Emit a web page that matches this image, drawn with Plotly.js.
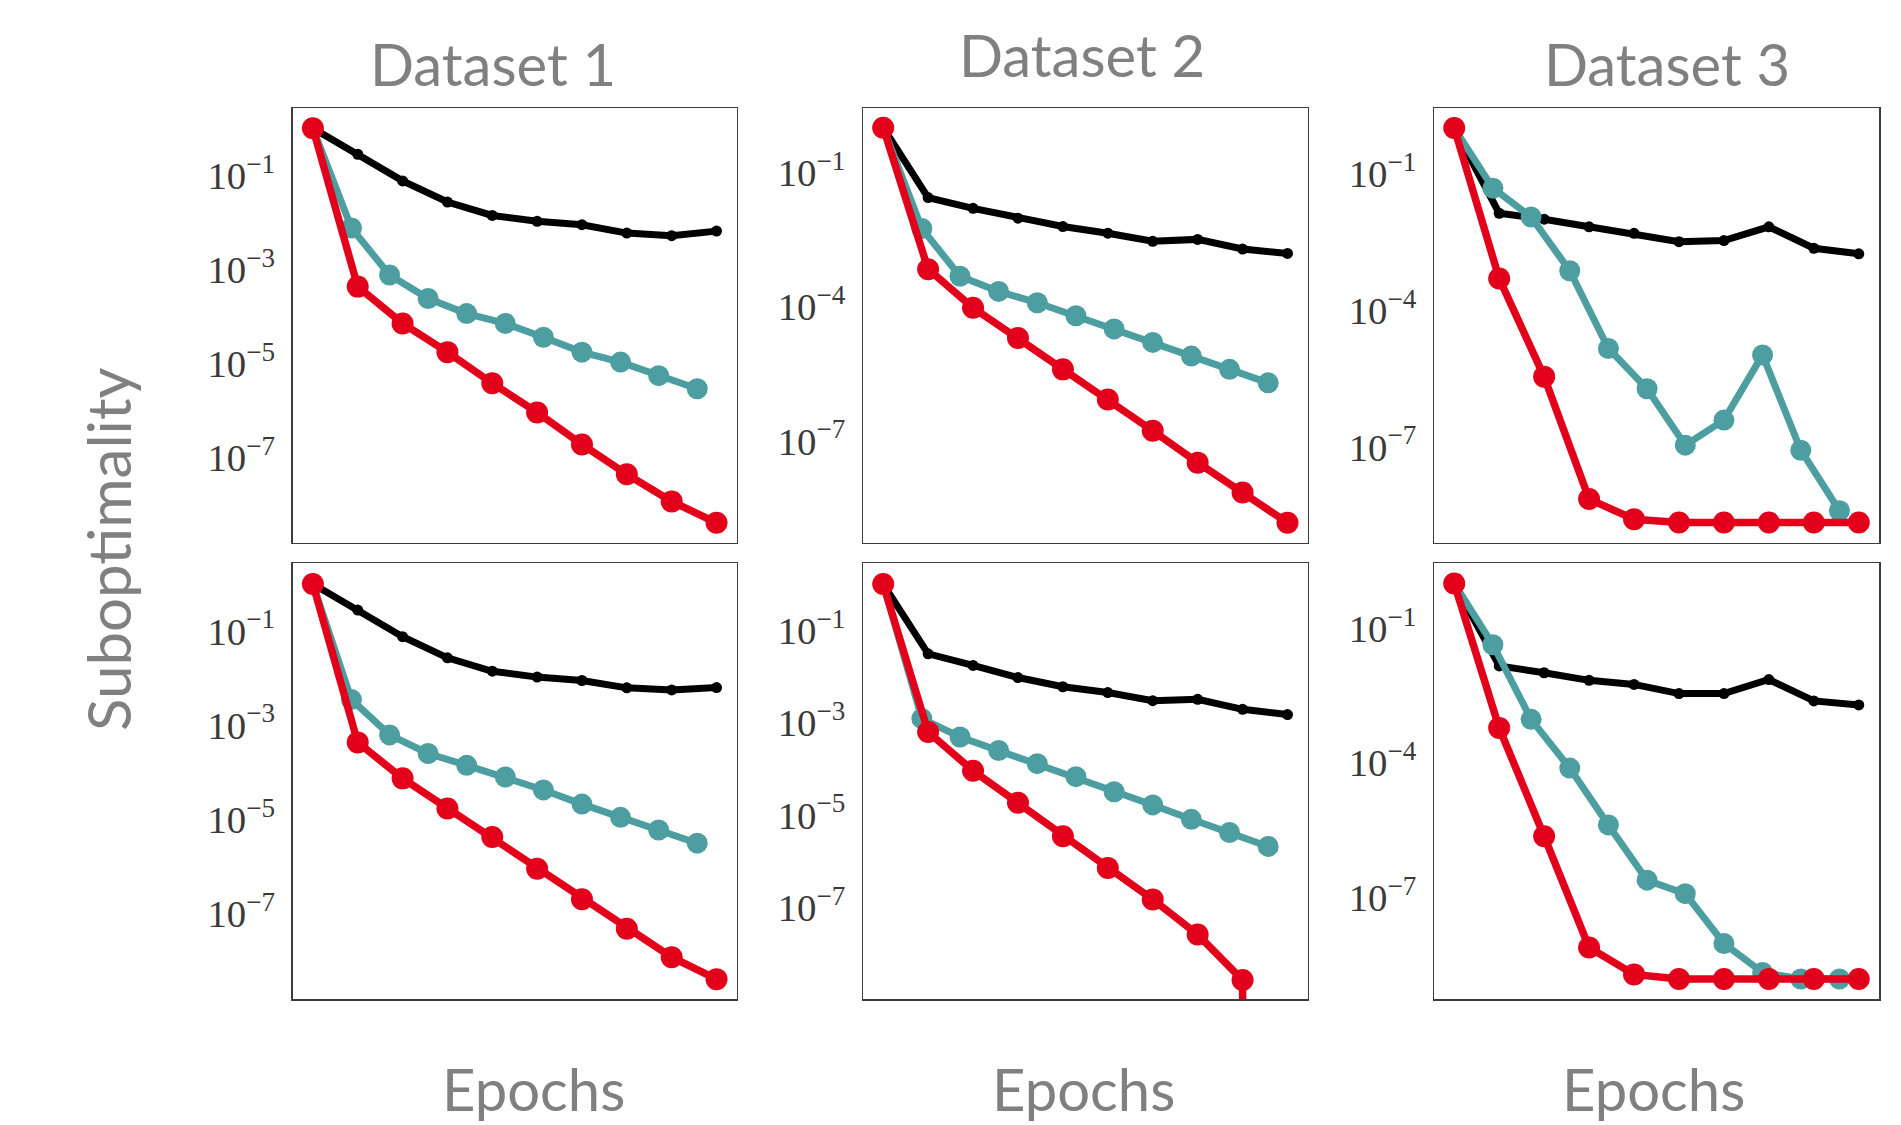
<!DOCTYPE html>
<html><head><meta charset="utf-8">
<script src="https://cdn.plot.ly/plotly-3.0.1.min.js"></script>
<style>html,body{margin:0;padding:0;background:#fff;}#chart{width:1901px;height:1125px;}</style>
</head><body><div id="chart"></div>
<script>
// ---------- DATA ----------
const epochs = [0, 1, 2, 3, 4, 5, 6, 7, 8, 9];
const tealEpochs = [0, 0.86, 1.71, 2.57, 3.43, 4.29, 5.14, 6.0, 6.86, 7.71, 8.57];
const datasetNames = ['Dataset 1', 'Dataset 2', 'Dataset 3'];
const xLabel = 'Epochs';
const yLabel = 'Suboptimality';

// top row
const black_d1_top = [1, 0.28, 0.076, 0.027, 0.014, 0.0105, 0.0089, 0.0059, 0.0052, 0.0065];
const teal_d1_top  = [1, 7.6e-3, 7.6e-4, 2.4e-4, 1.15e-4, 7.1e-5, 3.6e-5, 1.74e-5, 1.07e-5, 5.5e-6, 2.9e-6];
const red_d1_top   = [1, 4.3e-4, 7.1e-5, 1.74e-5, 3.8e-6, 9.1e-7, 1.9e-7, 4.4e-8, 1.17e-8, 4.1e-9];

const black_d2_top = [1, 0.0275, 0.0158, 0.0095, 0.0062, 0.0044, 0.0029, 0.0032, 0.00195, 0.00155];
const teal_d2_top  = [1, 5.6e-3, 4.8e-4, 2.2e-4, 1.23e-4, 6.3e-5, 3.2e-5, 1.6e-5, 7.9e-6, 4.0e-6, 2.0e-6];
const red_d2_top   = [1, 6.9e-4, 9.5e-5, 2.0e-5, 4.0e-6, 8.5e-7, 1.7e-7, 3.3e-8, 7.1e-9, 1.5e-9];

const black_d3_top = [1, 0.0135, 0.010, 0.0068, 0.0049, 0.0032, 0.0034, 0.0068, 0.0023, 0.00174];
const teal_d3_top  = [1, 0.048, 0.0112, 7.4e-4, 1.45e-5, 1.9e-6, 1.1e-7, 3.9e-7, 1.05e-5, 8.5e-8, 4.0e-9];
const red_d3_top   = [1, 5.0e-4, 3.5e-6, 7.2e-9, 2.6e-9, 2.2e-9, 2.2e-9, 2.2e-9, 2.2e-9, 2.2e-9];

// bottom row
const black_d1_bot = [1, 0.28, 0.076, 0.027, 0.014, 0.0105, 0.0089, 0.0062, 0.0056, 0.0063];
const teal_d1_bot  = [1, 3.5e-3, 6.2e-4, 2.5e-4, 1.4e-4, 7.9e-5, 4.2e-5, 2.1e-5, 1.1e-5, 5.9e-6, 3.1e-6];
const red_d1_bot   = [1, 4.3e-4, 7.4e-5, 1.7e-5, 4.2e-6, 8.9e-7, 2.0e-7, 4.7e-8, 1.17e-8, 4.0e-9];

const black_d2_bot = [1, 0.031, 0.0174, 0.0095, 0.006, 0.0045, 0.003, 0.0032, 0.00195, 0.0015];
const teal_d2_bot  = [1, 1.23e-3, 4.9e-4, 2.5e-4, 1.3e-4, 6.8e-5, 3.2e-5, 1.66e-5, 8.1e-6, 4.2e-6, 2.1e-6];
const red_d2_bot   = [1, 6.3e-4, 9.1e-5, 1.86e-5, 3.5e-6, 7.2e-7, 1.5e-7, 2.6e-8, 2.7e-9, 0];

const black_d3_bot = [1, 0.0145, 0.0102, 0.0069, 0.0056, 0.0035, 0.0035, 0.0072, 0.0024, 0.00195];
const teal_d3_bot  = [1, 0.043, 9.3e-4, 7.6e-5, 4.1e-6, 2.4e-7, 1.2e-7, 9.3e-9, 2.1e-9, 1.5e-9, 1.5e-9];
const red_d3_bot   = [1, 6.0e-4, 2.3e-6, 7.6e-9, 1.9e-9, 1.5e-9, 1.5e-9, 1.5e-9, 1.5e-9, 1.5e-9];

// ---------- LAYOUT / STYLE ----------
const W = 1901, H = 1125;
const colPx = [[292.7, 736.7], [863, 1307.7], [1434, 1879]];
const rowPx = [[108, 542.7], [563.3, 999]];
const yRanges = [[-8.81, 0.43], [-9.27, 0.44], [-9.10, 0.44], [-8.82, 0.44], [-8.98, 0.45], [-9.27, 0.45]];
const yDticks = [2, 3, 3, 2, 2, 3];
const xRange = [-0.45, 9.45];

const panels = [
  {black: black_d1_top, teal: teal_d1_top, red: red_d1_top},
  {black: black_d2_top, teal: teal_d2_top, red: red_d2_top},
  {black: black_d3_top, teal: teal_d3_top, red: red_d3_top},
  {black: black_d1_bot, teal: teal_d1_bot, red: red_d1_bot},
  {black: black_d2_bot, teal: teal_d2_bot, red: red_d2_bot},
  {black: black_d3_bot, teal: teal_d3_bot, red: red_d3_bot}
];

const COLORS = {black: '#000000', teal: '#4c9ea1', red: '#e2001a'};
// like matplotlib, non-positive values on a log axis are clipped to a tiny positive value
const clipLog = v => v.map(d => d > 0 ? d : 1e-300);

const traces = [];
const layout = {
  width: W, height: H,
  margin: {l: 0, r: 0, t: 0, b: 0},
  paper_bgcolor: '#ffffff', plot_bgcolor: '#ffffff',
  showlegend: false, hovermode: false,
  annotations: []
};

panels.forEach((p, i) => {
  const n = i + 1;
  const xa = n === 1 ? 'x' : 'x' + n;
  const ya = n === 1 ? 'y' : 'y' + n;
  traces.push({x: epochs, y: clipLog(p.black), xaxis: xa, yaxis: ya, type: 'scatter', mode: 'lines+markers',
    line: {color: COLORS.black, width: 7}, marker: {color: COLORS.black, size: 11}, cliponaxis: true});
  traces.push({x: tealEpochs, y: clipLog(p.teal), xaxis: xa, yaxis: ya, type: 'scatter', mode: 'lines+markers',
    line: {color: COLORS.teal, width: 7}, marker: {color: COLORS.teal, size: 21}, cliponaxis: true});
  traces.push({x: epochs, y: clipLog(p.red), xaxis: xa, yaxis: ya, type: 'scatter', mode: 'lines+markers',
    line: {color: COLORS.red, width: 7.5}, marker: {color: COLORS.red, size: 22}, cliponaxis: false});

  const c = i % 3, r = Math.floor(i / 3);
  layout['xaxis' + (n === 1 ? '' : n)] = {
    domain: [colPx[c][0] / W, colPx[c][1] / W],
    anchor: ya, range: xRange, showticklabels: false, ticks: '',
    showgrid: false, zeroline: false, showline: true, mirror: true,
    linecolor: '#3d3d3d', linewidth: 1.5
  };
  layout['yaxis' + (n === 1 ? '' : n)] = {
    domain: [1 - rowPx[r][1] / H, 1 - rowPx[r][0] / H],
    anchor: xa, type: 'log', range: yRanges[i],
    tickmode: 'linear', tick0: -1, dtick: yDticks[i], exponentformat: 'power',
    ticks: '', ticklabelstandoff: 10,
    tickfont: {family: 'Liberation Serif, DejaVu Serif, serif', size: 31, color: '#3a3a3a'},
    showgrid: false, zeroline: false, showline: true, mirror: true,
    linecolor: '#3d3d3d', linewidth: 1.5
  };
});

const textFont = {family: 'Lato, Open Sans, sans-serif', size: 58, color: '#808080'};
const yTitleFont = {family: 'Lato, Open Sans, sans-serif', size: 60, color: '#808080'};
const titlePos = [[493, 63], [1082, 54], [1667, 63]];
datasetNames.forEach((t, i) => {
  layout.annotations.push({text: t, xref: 'paper', yref: 'paper', x: titlePos[i][0] / W, y: 1 - titlePos[i][1] / H,
    xanchor: 'center', yanchor: 'middle', showarrow: false, font: textFont, borderpad: 0});
});
const epochPos = [533, 1083, 1653];
epochPos.forEach(px => {
  layout.annotations.push({text: xLabel, xref: 'paper', yref: 'paper', x: px / W, y: 1 - 1088 / H,
    xanchor: 'center', yanchor: 'middle', showarrow: false, font: textFont, borderpad: 0});
});
layout.annotations.push({text: yLabel, xref: 'paper', yref: 'paper', x: 108 / W, y: 1 - 550 / H,
  xanchor: 'center', yanchor: 'middle', textangle: -90, showarrow: false, font: yTitleFont, borderpad: 0});

Plotly.newPlot('chart', traces, layout, {staticPlot: true, displayModeBar: false});
</script>
</body></html>
